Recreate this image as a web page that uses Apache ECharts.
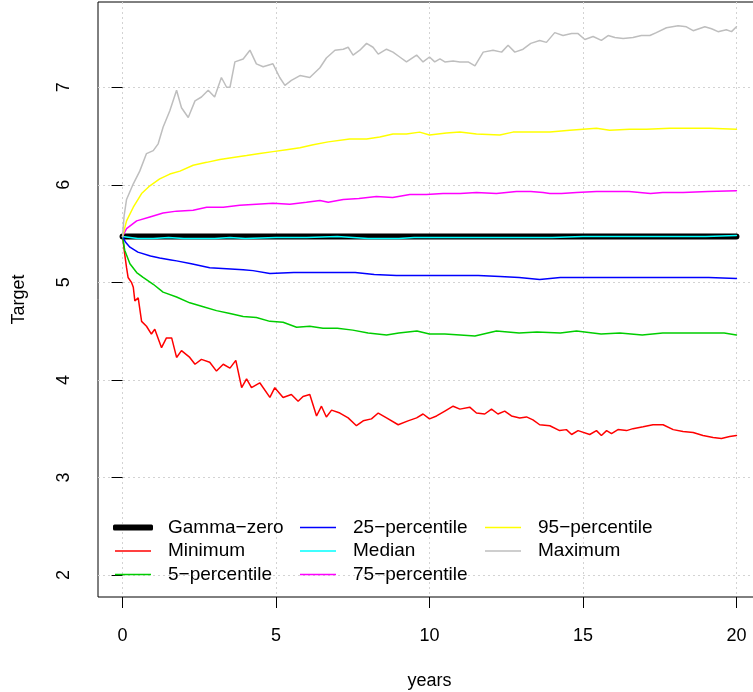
<!DOCTYPE html>
<html>
<head>
<meta charset="utf-8">
<script src="https://cdn.jsdelivr.net/npm/echarts@6.0.0/dist/echarts.min.js"></script>
<style>
  body { margin: 0; background: #fff; }
  #chart { width: 753px; height: 692px; }
</style>
</head>
<body>
<div id="chart"></div>
<script>
// tick labels
const xTicks = [0, 5, 10, 15, 20];
const yTicks = [2, 3, 4, 5, 6, 7];

// [years, target]
const gammaZero = [[0, 5.47], [20, 5.47]];

const minimum = [[0,5.47],[0.07,5.29],[0.13,5.15],[0.18,5.05],[0.29,5.0],[0.35,4.95],[0.4,4.81],[0.51,4.84],[0.62,4.6],[0.78,4.55],[0.94,4.47],[1.05,4.52],[1.27,4.33],[1.43,4.43],[1.6,4.43],[1.76,4.23],[1.92,4.3],[2.19,4.23],[2.36,4.16],[2.57,4.21],[2.84,4.18],[3.06,4.09],[3.28,4.16],[3.5,4.12],[3.69,4.2],[3.88,3.92],[4.04,4.01],[4.2,3.92],[4.47,3.97],[4.8,3.82],[4.96,3.92],[5.23,3.82],[5.5,3.85],[5.72,3.78],[5.88,3.83],[6.1,3.85],[6.32,3.63],[6.48,3.73],[6.64,3.62],[6.81,3.69],[7.08,3.66],[7.35,3.61],[7.62,3.53],[7.84,3.58],[8.11,3.6],[8.33,3.66],[8.6,3.61],[8.98,3.54],[9.3,3.58],[9.58,3.61],[9.79,3.65],[10.0,3.6],[10.23,3.63],[10.5,3.68],[10.77,3.73],[10.99,3.7],[11.31,3.72],[11.53,3.66],[11.8,3.65],[12.02,3.7],[12.23,3.65],[12.45,3.68],[12.67,3.63],[12.94,3.61],[13.16,3.62],[13.37,3.59],[13.59,3.54],[13.92,3.53],[14.24,3.48],[14.46,3.49],[14.63,3.44],[14.84,3.48],[15.22,3.44],[15.44,3.48],[15.6,3.43],[15.77,3.48],[15.93,3.45],[16.14,3.49],[16.42,3.48],[16.63,3.5],[16.96,3.52],[17.28,3.54],[17.61,3.54],[17.94,3.49],[18.26,3.47],[18.59,3.46],[18.91,3.43],[19.24,3.41],[19.51,3.4],[19.78,3.42],[20,3.43]];

const pct5 = [[0,5.47],[0.07,5.33],[0.24,5.19],[0.46,5.1],[0.67,5.05],[1.0,4.98],[1.32,4.9],[1.76,4.85],[2.19,4.79],[2.63,4.75],[3.06,4.71],[3.5,4.68],[3.93,4.65],[4.36,4.64],[4.8,4.6],[5.23,4.59],[5.67,4.54],[6.1,4.55],[6.53,4.53],[7.0,4.53],[7.5,4.51],[8.0,4.48],[8.6,4.46],[9.0,4.48],[9.59,4.5],[10.0,4.47],[10.5,4.47],[11.0,4.46],[11.48,4.45],[12.18,4.5],[12.92,4.48],[13.5,4.49],[14.26,4.48],[14.79,4.5],[15.59,4.47],[16.2,4.48],[16.93,4.46],[17.6,4.48],[18.26,4.48],[19.0,4.48],[19.6,4.48],[20,4.46]];

const pct25 = [[0,5.47],[0.1,5.41],[0.24,5.36],[0.5,5.31],[0.91,5.27],[1.21,5.25],[1.58,5.23],[1.76,5.22],[2.24,5.19],[2.84,5.15],[3.39,5.14],[3.93,5.13],[4.25,5.12],[4.8,5.09],[5.58,5.1],[6.25,5.1],[7.0,5.1],[7.58,5.1],[8.2,5.08],[8.92,5.07],[9.5,5.07],[10.25,5.07],[11.0,5.07],[11.59,5.07],[12.3,5.06],[12.92,5.05],[13.59,5.03],[14.26,5.05],[15.0,5.05],[15.59,5.05],[16.3,5.05],[16.93,5.05],[17.6,5.05],[18.26,5.05],[19.1,5.05],[20,5.04]];

const median = [[0,5.47],[0.5,5.45],[1,5.45],[1.5,5.46],[2,5.45],[2.5,5.45],[3,5.45],[3.5,5.46],[4,5.45],[5,5.46],[6,5.46],[7,5.47],[7.5,5.46],[8,5.45],[9,5.45],[9.5,5.46],[10,5.46],[11,5.46],[12,5.46],[13,5.46],[14,5.46],[15,5.47],[16,5.47],[17,5.47],[18,5.47],[19,5.47],[20,5.48]];

const pct75 = [[0,5.47],[0.13,5.55],[0.46,5.63],[0.89,5.67],[1.32,5.71],[1.76,5.73],[2.3,5.74],[2.74,5.77],[3.28,5.77],[3.82,5.79],[4.36,5.8],[4.9,5.81],[5.45,5.8],[5.99,5.82],[6.43,5.84],[6.7,5.82],[7.19,5.85],[7.7,5.86],[8.27,5.88],[8.8,5.87],[9.36,5.9],[9.9,5.9],[10.44,5.91],[11.0,5.91],[11.53,5.92],[12.18,5.91],[12.83,5.93],[13.3,5.93],[13.7,5.92],[13.92,5.91],[14.3,5.91],[14.79,5.92],[15.44,5.93],[16.0,5.93],[16.5,5.93],[17.2,5.91],[17.6,5.92],[18.26,5.92],[19.07,5.93],[20,5.94]];

const pct95 = [[0,5.47],[0.13,5.63],[0.35,5.77],[0.62,5.91],[0.89,5.99],[1.21,6.06],[1.54,6.11],[1.87,6.14],[2.3,6.2],[2.74,6.23],[3.17,6.26],[3.6,6.28],[4.04,6.3],[4.47,6.32],[4.9,6.34],[5.34,6.36],[5.78,6.38],[6.21,6.41],[6.7,6.44],[7.4,6.47],[7.95,6.47],[8.38,6.49],[8.81,6.52],[9.25,6.52],[9.68,6.54],[10.0,6.51],[10.55,6.53],[10.99,6.54],[11.53,6.52],[12.29,6.51],[12.72,6.54],[13.27,6.54],[13.92,6.54],[14.57,6.56],[15.0,6.57],[15.44,6.58],[15.87,6.56],[16.52,6.57],[17.07,6.57],[17.83,6.58],[18.48,6.58],[19.13,6.58],[20,6.57]];

const maximum = [[0,5.47],[0.05,5.68],[0.13,5.85],[0.35,6.01],[0.56,6.14],[0.78,6.32],[1.0,6.35],[1.16,6.42],[1.32,6.59],[1.54,6.76],[1.76,6.97],[1.92,6.79],[2.14,6.69],[2.36,6.86],[2.57,6.9],[2.79,6.97],[3.0,6.9],[3.22,7.1],[3.39,7.0],[3.5,7.0],[3.66,7.26],[3.93,7.29],[4.15,7.38],[4.36,7.24],[4.58,7.21],[4.9,7.24],[5.12,7.1],[5.29,7.02],[5.5,7.07],[5.78,7.12],[6.1,7.1],[6.43,7.2],[6.64,7.3],[6.92,7.38],[7.19,7.39],[7.35,7.41],[7.51,7.33],[7.73,7.38],[7.95,7.45],[8.16,7.41],[8.33,7.34],[8.6,7.39],[8.81,7.36],[9.03,7.31],[9.25,7.26],[9.58,7.33],[9.79,7.26],[10.0,7.31],[10.17,7.26],[10.34,7.29],[10.5,7.26],[10.77,7.27],[10.99,7.26],[11.26,7.26],[11.48,7.22],[11.75,7.36],[12.07,7.38],[12.35,7.36],[12.56,7.43],[12.78,7.36],[13.05,7.39],[13.3,7.45],[13.59,7.48],[13.81,7.46],[14.08,7.56],[14.35,7.53],[14.63,7.55],[14.84,7.55],[15.06,7.49],[15.33,7.52],[15.6,7.48],[15.82,7.53],[16.04,7.51],[16.31,7.5],[16.63,7.51],[16.9,7.53],[17.18,7.53],[17.39,7.56],[17.72,7.61],[18.1,7.63],[18.37,7.62],[18.59,7.58],[18.97,7.62],[19.19,7.6],[19.4,7.57],[19.67,7.59],[19.84,7.57],[20,7.62]];

const names = ["Gamma\u2212zero", "Minimum", "5\u2212percentile", "25\u2212percentile",
  "Median", "75\u2212percentile", "95\u2212percentile", "Maximum"];
const colors = ["#000000", "#FF0000", "#00CD00", "#0000FF", "#00FFFF", "#FF00FF", "#FFFF00", "#BEBEBE"];
const lines = [gammaZero, minimum, pct5, pct25, median, pct75, pct95, maximum];

const font = "'Liberation Sans', Arial, sans-serif";
const chart = echarts.init(document.getElementById("chart"));

// one legend block per column (R fills its legend column by column)
function legendCol(items, left, top, thick) {
  return {
    orient: "vertical",
    left: left,
    top: top,
    icon: thick ? "roundRect" : "rect",
    itemWidth: thick ? 40 : 36,
    itemHeight: thick ? 6 : 1.5,
    itemGap: 4.5,
    padding: 0,
    data: items,
    textStyle: { fontFamily: font, fontSize: 19, color: "#000", lineHeight: 19, padding: [0, 0, 0, thick ? 10 : 12] }
  };
}

chart.setOption({
  animation: false,
  grid: {
    left: 98, top: 2, width: 663, height: 595,
    outerBoundsMode: "none",
    show: true, borderColor: "#000", borderWidth: 1
  },
  legend: [
    legendCol(names.slice(0, 1), 113, 518, true),
    legendCol(names.slice(1, 3), 115, 541.5, false),
    legendCol(names.slice(3, 6), 300, 518, false),
    legendCol(names.slice(6, 8), 485, 518, false)
  ],
  xAxis: {
    type: "value",
    min: -0.8,
    max: 20.8,
    name: "years",
    nameLocation: "middle",
    nameGap: 75,
    nameTextStyle: { fontFamily: font, fontSize: 18, color: "#000" },
    axisLine: { show: false },
    axisTick: { show: true, length: 11, customValues: xTicks, lineStyle: { color: "#000" } },
    axisLabel: { customValues: xTicks, margin: 30, fontFamily: font, fontSize: 18, color: "#000" },
    splitLine: { show: true, lineStyle: { color: "#d3d3d3", type: [2, 3] } }
  },
  yAxis: {
    type: "value",
    min: 1.774,
    max: 7.874,
    name: "Target",
    nameLocation: "middle",
    nameRotate: 90,
    nameGap: 70,
    nameTextStyle: { fontFamily: font, fontSize: 18, color: "#000" },
    axisLine: { show: false },
    axisTick: { show: true, length: 11, customValues: yTicks, lineStyle: { color: "#000" } },
    axisLabel: { customValues: yTicks, rotate: 90, margin: 25, fontFamily: font, fontSize: 18, color: "#000" },
    splitLine: { show: true, lineStyle: { color: "#d3d3d3", type: [2, 3] } }
  },
  series: lines.map(function (d, i) {
    return {
      name: names[i],
      type: "line",
      data: d,
      symbol: "none",
      color: colors[i],
      lineStyle: { width: i === 0 ? 6 : 1.5, cap: "round", color: colors[i] }
    };
  })
});
</script>
</body>
</html>
